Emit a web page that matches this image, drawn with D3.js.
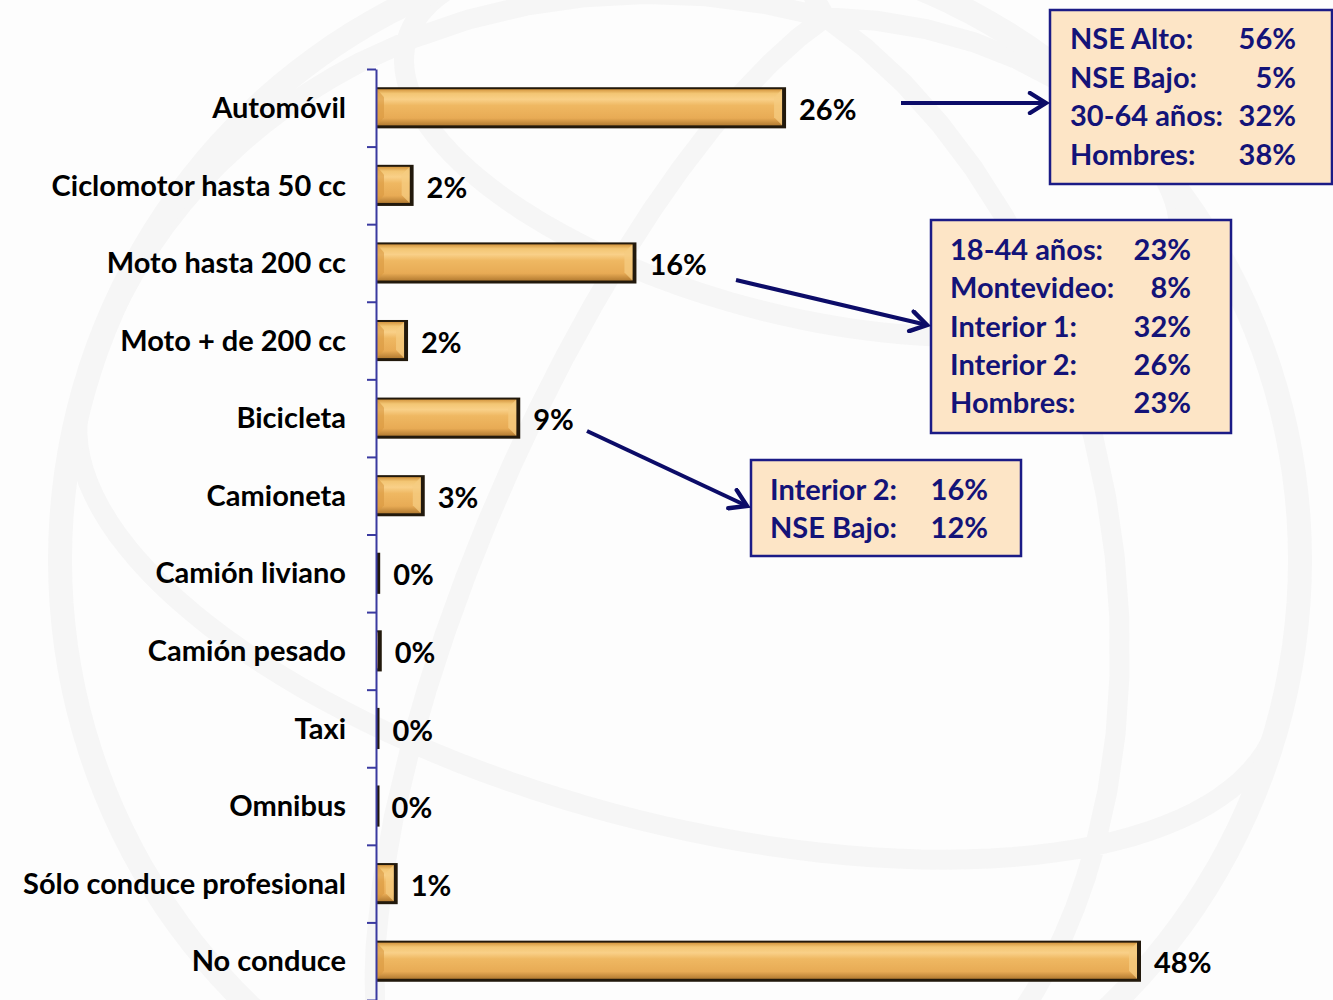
<!DOCTYPE html>
<html>
<head>
<meta charset="utf-8">
<script src="https://cdn.jsdelivr.net/npm/d3@7"></script>
<style>
  html, body { margin: 0; padding: 0; background: #fdfdfd; }
  svg { display: block; font-family: Lato, "Open Sans", sans-serif; font-weight: bold; }
</style>
</head>
<body>
<div class="chart"></div>
<script>
// categorías y valores (%)
const categorias = ['Automóvil', 'Ciclomotor hasta 50 cc', 'Moto hasta 200 cc', 'Moto + de 200 cc',
    'Bicicleta', 'Camioneta', 'Camión liviano', 'Camión pesado', 'Taxi', 'Omnibus',
    'Sólo conduce profesional', 'No conduce'];
const valores = [25.7, 2.3, 16.3, 1.95, 9.0, 3.0, 0.2, 0.3, 0.15, 0.1, 1.3, 48.0];
const etiquetas = ['26%', '2%', '16%', '2%', '9%', '3%', '0%', '0%', '0%', '0%', '1%', '48%'];

// cuadros de notas
const notaAutomovil = [['NSE Alto:', '56%'], ['NSE Bajo:', '5%'], ['30-64 años:', '32%'], ['Hombres:', '38%']];
const notaMoto = [['18-44 años:', '23%'], ['Montevideo:', '8%'], ['Interior 1:', '32%'], ['Interior 2:', '26%'], ['Hombres:', '23%']];
const notaBici = [['Interior 2:', '16%'], ['NSE Bajo:', '12%']];

const W = 1333, H = 1000;
const svg = d3.select('.chart').append('svg').attr('width', W).attr('height', H);

// marca de agua (globo), muy tenue
const proj = d3.geoOrthographic().scale(620).translate([680, 560]).rotate([-20, -25, -15]).clipAngle(90);
const geoPath = d3.geoPath(proj);
const fondo = svg.append('g').attr('fill', 'none').attr('stroke', '#f6f6f6');
fondo.append('path').datum(d3.geoGraticule().step([70, 50])()).attr('d', geoPath).attr('stroke-width', 20);
fondo.append('path').datum({type: 'Sphere'}).attr('d', geoPath).attr('stroke-width', 24);

// escalas
const x0 = 377;
const xScale = d3.scaleLinear().domain([0, 48]).range([x0, 1141]);
const yScale = d3.scaleBand().domain(categorias).range([69, 1000]).paddingInner(0.47).paddingOuter(0.235);
const yTicks = d3.scaleLinear().domain([0, categorias.length]).range([69, 1000]);
const valorDe = d => valores[categorias.indexOf(d)];

// gradiente dorado
const defs = svg.append('defs');
const grad = defs.append('linearGradient').attr('id', 'oro').attr('x1', 0).attr('x2', 0).attr('y1', 0).attr('y2', 1);
[[0, '#d4963f'], [0.12, '#f3c674'], [0.28, '#f9d088'], [0.45, '#efb862'], [0.8, '#e8ab55'], [1, '#b47c32']]
    .forEach(s => grad.append('stop').attr('offset', s[0]).attr('stop-color', s[1]));

const mk = defs.append('marker').attr('id', 'flecha').attr('viewBox', '0 0 12 12')
    .attr('refX', 10).attr('refY', 6).attr('markerWidth', 6).attr('markerHeight', 6)
    .attr('orient', 'auto').attr('markerUnits', 'strokeWidth');
mk.append('path').attr('d', 'M2,1 L10,6 L2,11').attr('fill', 'none')
    .attr('stroke', '#0c0c68').attr('stroke-width', 2.2).attr('stroke-linecap', 'round');

// barras
const bars = svg.append('g').selectAll('g').data(categorias).enter().append('g');
bars.append('rect')
    .attr('x', x0).attr('y', d => yScale(d))
    .attr('width', d => Math.max(2.5, xScale(valorDe(d)) - x0))
    .attr('height', yScale.bandwidth())
    .attr('fill', '#22190c');
bars.append('rect')
    .attr('x', x0).attr('y', d => yScale(d) + 2)
    .attr('width', d => Math.max(0, xScale(valorDe(d)) - x0 - 4))
    .attr('height', yScale.bandwidth() - 5)
    .attr('fill', 'url(#oro)');
// bisel en los extremos
const conBisel = bars.filter(d => xScale(valorDe(d)) - x0 > 12);
conBisel.append('path')
    .attr('d', d => {
        const xe = xScale(valorDe(d)) - 4, y = yScale(d) + 2, h = yScale.bandwidth() - 5;
        return `M${xe},${y} L${xe - 8},${y + 8} L${xe - 8},${y + h - 8} L${xe},${y + h} Z`;
    })
    .attr('fill', '#f6cc82').attr('opacity', 0.75);
conBisel.append('path')
    .attr('d', d => {
        const xs = x0, y = yScale(d) + 2, h = yScale.bandwidth() - 5;
        return `M${xs},${y} L${xs + 7},${y + 8} L${xs + 7},${y + h - 8} L${xs},${y + h} Z`;
    })
    .attr('fill', '#d9983f').attr('opacity', 0.6);

// eje
const yAxis = d3.axisLeft(yTicks).tickValues(d3.range(categorias.length + 1))
    .tickFormat('').tickSizeInner(9).tickSizeOuter(0);
svg.append('g').attr('transform', `translate(${x0 - 1},0)`).call(yAxis)
    .call(g => g.selectAll('line, path').attr('stroke', '#3a3aa0').attr('stroke-width', 2));

// etiquetas de categoría
svg.append('g').selectAll('text').data(categorias).enter().append('text')
    .attr('x', 346).attr('y', d => yScale(d) + yScale.bandwidth() / 2)
    .attr('dy', '0.35em').attr('text-anchor', 'end')
    .style('font-size', '29px').style('fill', '#000')
    .text(d => d);

// etiquetas de valor
svg.append('g').selectAll('text').data(categorias).enter().append('text')
    .attr('x', d => xScale(valorDe(d)) + 13)
    .attr('y', d => yScale(d) + yScale.bandwidth() / 2 + 2)
    .attr('dy', '0.35em')
    .style('font-size', '29px').style('fill', '#000')
    .text((d, i) => etiquetas[i]);

// cuadros de notas
function nota(filas, bx, by, bw, bh, tx, vx, y0, paso) {
    const g = svg.append('g');
    g.append('rect').attr('x', bx).attr('y', by).attr('width', bw).attr('height', bh)
        .attr('fill', '#fde5c6').attr('stroke', '#1b1b86').attr('stroke-width', 2.5);
    filas.forEach((f, i) => {
        g.append('text').attr('x', tx).attr('y', y0 + i * paso).attr('dy', '0.35em')
            .style('font-size', '29px').style('fill', '#131378').text(f[0]);
        g.append('text').attr('x', vx).attr('y', y0 + i * paso).attr('dy', '0.35em')
            .attr('text-anchor', 'end')
            .style('font-size', '29px').style('fill', '#131378').text(f[1]);
    });
}
nota(notaAutomovil, 1050, 10, 282, 174, 1070, 1296, 39, 38.6);
nota(notaMoto, 931, 220, 300, 213, 950, 1191, 250, 38.3);
nota(notaBici, 751, 460, 270, 96, 770, 988, 490, 38);

// flechas
const flechas = [[901, 103, 1046, 103], [736, 280, 927, 325], [587, 431, 747, 506]];
svg.append('g').selectAll('line').data(flechas).enter().append('line')
    .attr('x1', d => d[0]).attr('y1', d => d[1]).attr('x2', d => d[2]).attr('y2', d => d[3])
    .attr('stroke', '#0c0c68').attr('stroke-width', 4).attr('marker-end', 'url(#flecha)');
</script>
</body>
</html>
